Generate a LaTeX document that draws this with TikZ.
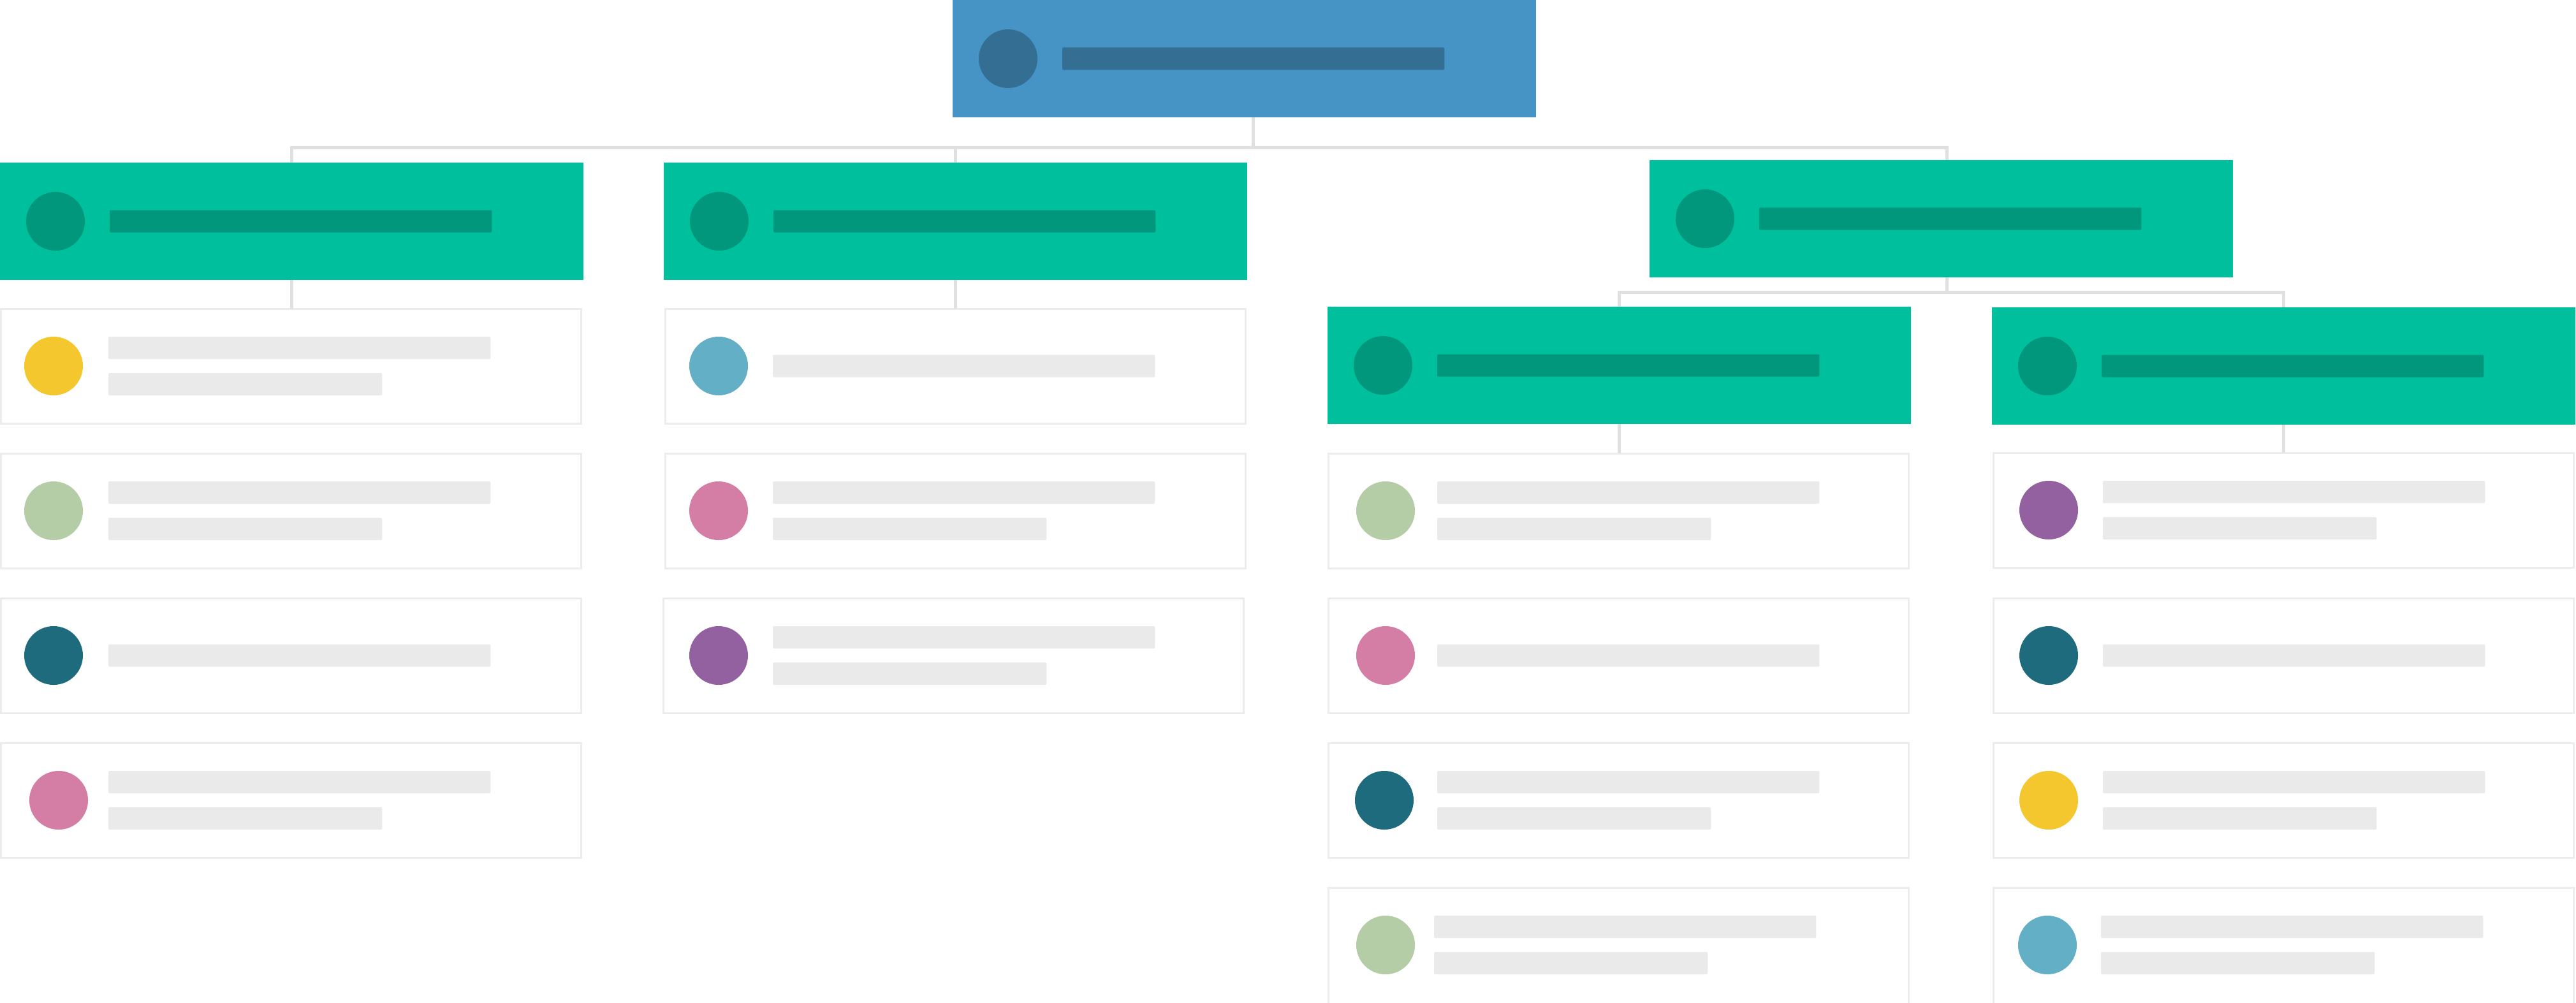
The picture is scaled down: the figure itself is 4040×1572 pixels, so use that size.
\documentclass[tikz,border=0pt]{standalone}
\usetikzlibrary{calc}
\definecolor{cblue}{HTML}{4694C6}
\definecolor{cblued}{HTML}{356E93}
\definecolor{cgreen}{HTML}{00BF9D}
\definecolor{cgreend}{HTML}{00977D}
\definecolor{cbar}{HTML}{EAEAEA}
\definecolor{cborder}{HTML}{ECECEC}
\definecolor{cline}{HTML}{E0E0E0}
\definecolor{cyel}{HTML}{F4C72E}
\definecolor{clgreen}{HTML}{B4CDA6}
\definecolor{cteal}{HTML}{1F6B7E}
\definecolor{cpink}{HTML}{D47DA5}
\definecolor{cpurple}{HTML}{9461A0}
\definecolor{clblue}{HTML}{63AFC5}
\tikzset{
  headbox/.style={rectangle, inner sep=0pt, outer sep=0pt, minimum width=9.14cm, minimum height=1.84cm, anchor=north west},
  card/.style={rectangle, draw=cborder, line width=0.03cm, fill=white, inner sep=0pt, outer sep=0pt, minimum width=9.10cm, minimum height=1.80cm, anchor=north west},
  tallcard/.style={card, minimum height=2.10cm},
  dot/.style={circle, inner sep=0pt, outer sep=0pt, minimum size=0.92cm},
  barbox/.style={rectangle, rounded corners=0.02cm, inner sep=0pt, outer sep=0pt, minimum height=0.35cm, anchor=west},
  longbar/.style={barbox, minimum width=5.99cm},
  shortbar/.style={barbox, minimum width=4.29cm},
  conn/.style={draw=cline, line width=0.05cm},
}
% name, x, y, fill, dark
\newcommand\headnode[5]{%
  \node[headbox, fill=#4] (#1) at (#2,#3) {};
  \node[dot, fill=#5] (#1c) at (#2+87,#3+92) {};
  \node[longbar, fill=#5] (#1t) at (#2+172,#3+92) {};
}
% name, x, y, color, circle dx, bar dx, card style
\newcommand\cardtwo[7]{%
  \node[#7] (#1) at (#2+1,#3+1) {};
  \node[dot, fill=#4] (#1c) at (#2+#5,#3+91) {};
  \node[longbar, fill=cbar] (#1a) at (#2+#6,#3+62.5) {};
  \node[shortbar, fill=cbar] (#1b) at (#2+#6,#3+119.5) {};
}
\newcommand\cardone[7]{%
  \node[#7] (#1) at (#2+1,#3+1) {};
  \node[dot, fill=#4] (#1c) at (#2+#5,#3+91) {};
  \node[longbar, fill=cbar] (#1a) at (#2+#6,#3+91) {};
}
\begin{document}
\begin{tikzpicture}[x=0.01cm, y=-0.01cm]
\useasboundingbox (0,0) rectangle (4040,1572);
\clip (0,0) rectangle (4040,1572);
\fill[white] (0,0) rectangle (4040,1572);

% header boxes
\headnode{root}{1494}{0}{cblue}{cblued}
\headnode{A}{0}{255}{cgreen}{cgreend}
\headnode{B}{1041}{255}{cgreen}{cgreend}
\headnode{C}{2587}{251}{cgreen}{cgreend}
\headnode{D}{2082}{481}{cgreen}{cgreend}
\headnode{E}{3124}{482}{cgreen}{cgreend}

% column A
\cardtwo{A1}{0}{483}{cyel}{84}{170}{card}
\cardtwo{A2}{0}{710}{clgreen}{84}{170}{card}
\cardone{A3}{0}{937}{cteal}{84}{170}{card}
\cardtwo{A4}{0}{1164}{cpink}{92}{170}{card}

% column B
\cardone{B1}{1042}{483}{clblue}{85}{170}{card}
\cardtwo{B2}{1042}{710}{cpink}{85}{170}{card}
\cardtwo{B3}{1039}{937}{cpurple}{88}{173}{card}

% column D
\cardtwo{D1}{2082}{710}{clgreen}{91}{172}{card}
\cardone{D2}{2082}{937}{cpink}{91}{172}{card}
\cardtwo{D3}{2082}{1164}{cteal}{89}{172}{card}
\cardtwo{D4}{2082}{1391}{clgreen}{91}{167}{tallcard}

% column E
\cardtwo{E1}{3125}{709}{cpurple}{88}{173}{card}
\cardone{E2}{3125}{937}{cteal}{88}{173}{card}
\cardtwo{E3}{3125}{1164}{cyel}{88}{173}{card}
\cardtwo{E4}{3125}{1391}{clblue}{86}{170}{tallcard}

% connectors
\coordinate (bus1) at (0,231);
\coordinate (bus2) at (0,458);
\coordinate (Rbot) at ([xshift=0.14cm]root.south);
\coordinate (Ctop) at ([xshift=0.09cm]C.north);
\coordinate (Cbot) at ([xshift=0.09cm]C.south);
\draw[conn] (Rbot) -- (Rbot |- bus1);
\draw[conn] (A.north) -- (A.north |- bus1) -- (Ctop |- bus1) -- (Ctop);
\draw[conn] (B.north |- bus1) -- (B.north);
\draw[conn] (A.south) -- (A.south |- A1.north);
\draw[conn] (B.south) -- (B.south |- B1.north);
\draw[conn] (Cbot) -- (Cbot |- bus2);
\draw[conn] (D.north) -- (D.north |- bus2) -- (E.north |- bus2) -- (E.north);
\draw[conn] (D.south) -- (D.south |- D1.north);
\draw[conn] (E.south) -- (E.south |- E1.north);
\end{tikzpicture}
\end{document}
